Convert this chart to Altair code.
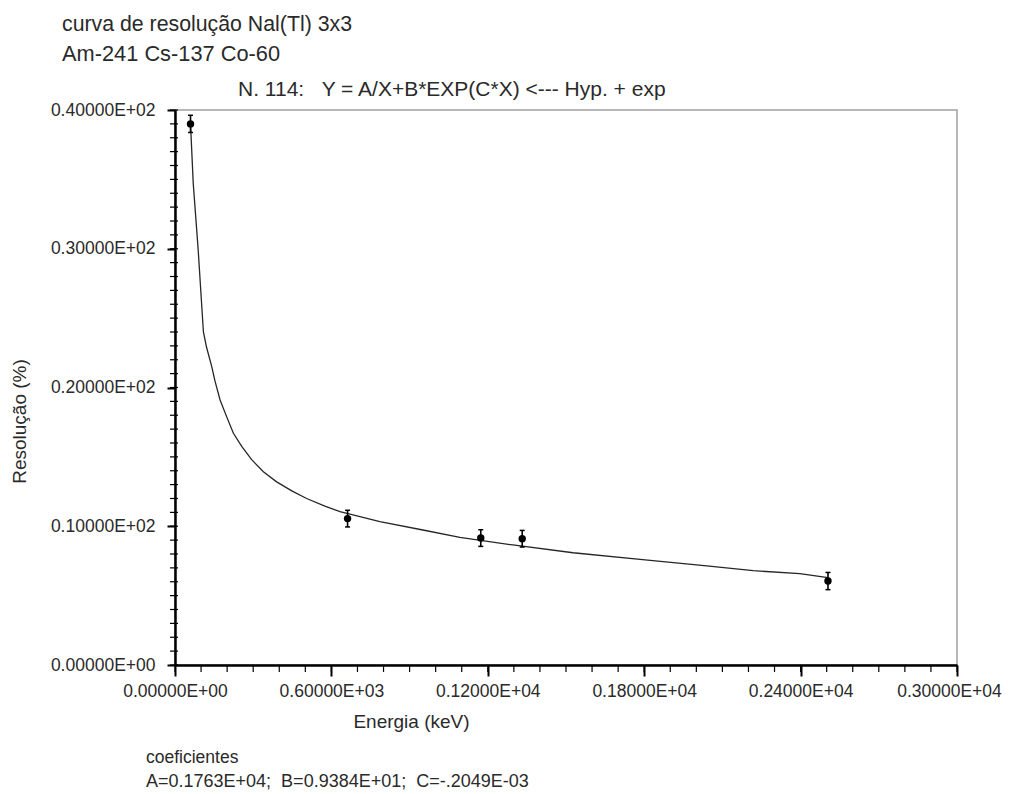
import altair as alt
import pandas as pd

# measured data points (energy keV, resolution %, uncertainty)
energy = [59.5, 662, 1173, 1332, 2505]
resol = [39.0, 10.55, 9.15, 9.1, 6.05]
err = [0.62, 0.6, 0.6, 0.6, 0.62]

# fitted curve
curve_x = [59.5, 70, 89, 109, 121, 141, 153, 173, 198, 224, 256, 294, 339, 390,
           448, 505, 575, 633, 786, 951, 1093, 1296, 1527, 1784, 2040, 2218,
           2397, 2505]
curve_y = [39.0, 34.7, 29.9, 24.0, 22.9, 21.5, 20.5, 19.1, 17.9, 16.7, 15.75,
           14.8, 13.93, 13.2, 12.55, 12.0, 11.45, 11.05, 10.33, 9.73, 9.2, 8.65,
           8.09, 7.62, 7.14, 6.8, 6.58, 6.3]

x_major = [0, 600, 1200, 1800, 2400, 3000]
x_labels = ["0.00000E+00", "0.60000E+03", "0.12000E+04", "0.18000E+04",
            "0.24000E+04", "0.30000E+04"]
x_minor = list(range(0, 3001, 100))
y_major = [0, 10, 20, 30, 40]
y_labels = ["0.00000E+00", "0.10000E+02", "0.20000E+02", "0.30000E+02",
            "0.40000E+02"]
y_minor = list(range(0, 41, 1))

NB = "\u00a0"
title1 = "curva de resolução Nal(Tl) 3x3"
title2 = "Am-241 Cs-137 Co-60"
equation = "N. 114:" + NB * 3 + "Y = A/X+B*EXP(C*X) <--- Hyp. + exp"
coef_title = "coeficientes"
coef_text = "A=0.1763E+04;" + NB * 2 + "B=0.9384E+01;" + NB * 2 + "C=-.2049E-03"

FONT = "Liberation Sans"
TXT = "#2a2a2a"
W, H = 782, 555


def label_expr(values, labels):
    expr = "''"
    for v, l in reversed(list(zip(values, labels))):
        expr = f"datum.value == {v} ? '{l}' : ({expr})"
    return expr


pts = pd.DataFrame({"E": energy, "R": resol, "lo": [r - e for r, e in zip(resol, err)],
                    "hi": [r + e for r, e in zip(resol, err)]})
cur = pd.DataFrame({"E": curve_x, "R": curve_y})
xmin_df = pd.DataFrame({"E": x_minor})
ymin_df = pd.DataFrame({"R": y_minor})

xs = alt.Scale(domain=[0, 3000], nice=False, zero=False)
ys = alt.Scale(domain=[0, 40], nice=False, zero=False)

x_axis_major = alt.Axis(
    orient="bottom", values=x_major, labelExpr=label_expr(x_major, x_labels),
    title="Energia (keV)", titleFont=FONT, titleFontSize=19, titleFontWeight="normal",
    titleColor=TXT, titleX=236, titleY=62, titleAlign="center", titleBaseline="alphabetic",
    labelFont=FONT, labelFontSize=17.5, labelColor=TXT, labelPadding=6,
    labelOffset=alt.condition("datum.value == 3000", alt.value(-8), alt.value(0)),
    tickSize=11, tickWidth=2, tickColor="black", domainColor="black", domainWidth=2.5,
    grid=False, labelFlush=False, labelOverlap=False)
y_axis_major = alt.Axis(
    orient="left", values=y_major, labelExpr=label_expr(y_major, y_labels),
    title="Resolução (%)", titleFont=FONT, titleFontSize=19, titleFontWeight="normal",
    titleColor=TXT, titleX=-150, titleY=311, titleAlign="center", titleAngle=-90,
    titleBaseline="alphabetic",
    labelFont=FONT, labelFontSize=17.5, labelColor=TXT, labelPadding=12,
    tickSize=8, tickWidth=2, tickColor="black", domainColor="black", domainWidth=2.5,
    grid=False, labelFlush=False, labelOverlap=False)

X = alt.X("E:Q", scale=xs, axis=x_axis_major, title="Energia (keV)")
Y = alt.Y("R:Q", scale=ys, axis=y_axis_major, title="Resolução (%)")

curve = alt.Chart(cur).mark_line(color="#262626", strokeWidth=1.3).encode(x=X, y=Y)
# minor x ticks: short vertical rules hanging just below the x axis line
x_minor_ticks = alt.Chart(xmin_df).transform_calculate(
    t0="0", t1="-0.5"
).mark_rule(color="black", strokeWidth=1.2, clip=False).encode(
    x=X,
    y=alt.Y("t0:Q", scale=ys, axis=y_axis_major, title="Resolução (%)"),
    y2="t1:Q",
)
y_minor_ticks = alt.Chart(ymin_df).mark_tick(
    color="black", orient="horizontal", size=8, thickness=1.2, opacity=1).encode(
    y=Y, x=alt.value(-1))
bars = alt.Chart(pts).mark_rule(color="black", strokeWidth=1.6).encode(
    x=X, y=alt.Y("lo:Q", scale=ys, axis=y_axis_major, title="Resolução (%)"), y2="hi:Q")
cap_lo = alt.Chart(pts).mark_tick(color="black", orient="horizontal", size=5, thickness=1.5, opacity=1).encode(
    x=X, y=alt.Y("lo:Q", scale=ys, axis=y_axis_major, title="Resolução (%)"))
cap_hi = alt.Chart(pts).mark_tick(color="black", orient="horizontal", size=5, thickness=1.5, opacity=1).encode(
    x=X, y=alt.Y("hi:Q", scale=ys, axis=y_axis_major, title="Resolução (%)"))
dots = alt.Chart(pts).mark_circle(color="black", size=55, opacity=1).encode(x=X, y=Y)


def txt(s, x, y, size):
    return alt.Chart(pd.DataFrame({"t": [s]})).mark_text(
        font=FONT, fontSize=size, color=TXT, align="left", baseline="alphabetic"
    ).encode(x=alt.value(x), y=alt.value(y), text="t:N")


texts = (txt(title1, -113, -79, 21.3) + txt(title2, -113, -49, 21.8)
         + txt(equation, 63, -14, 21) + txt(coef_title, -29, 653, 17.5)
         + txt(coef_text, -29, 677, 18))

chart = alt.layer(curve, bars, cap_lo, cap_hi, dots, x_minor_ticks, y_minor_ticks, texts).properties(
    width=W, height=H,
    padding={"left": 167, "top": 102, "right": 45, "bottom": 129},
    autosize=alt.AutoSizeParams(type="none"),
).configure_view(stroke="#a0a0a0", strokeWidth=1.5)

chart.save("out.html", embed_options={"renderer": "svg", "actions": False})
